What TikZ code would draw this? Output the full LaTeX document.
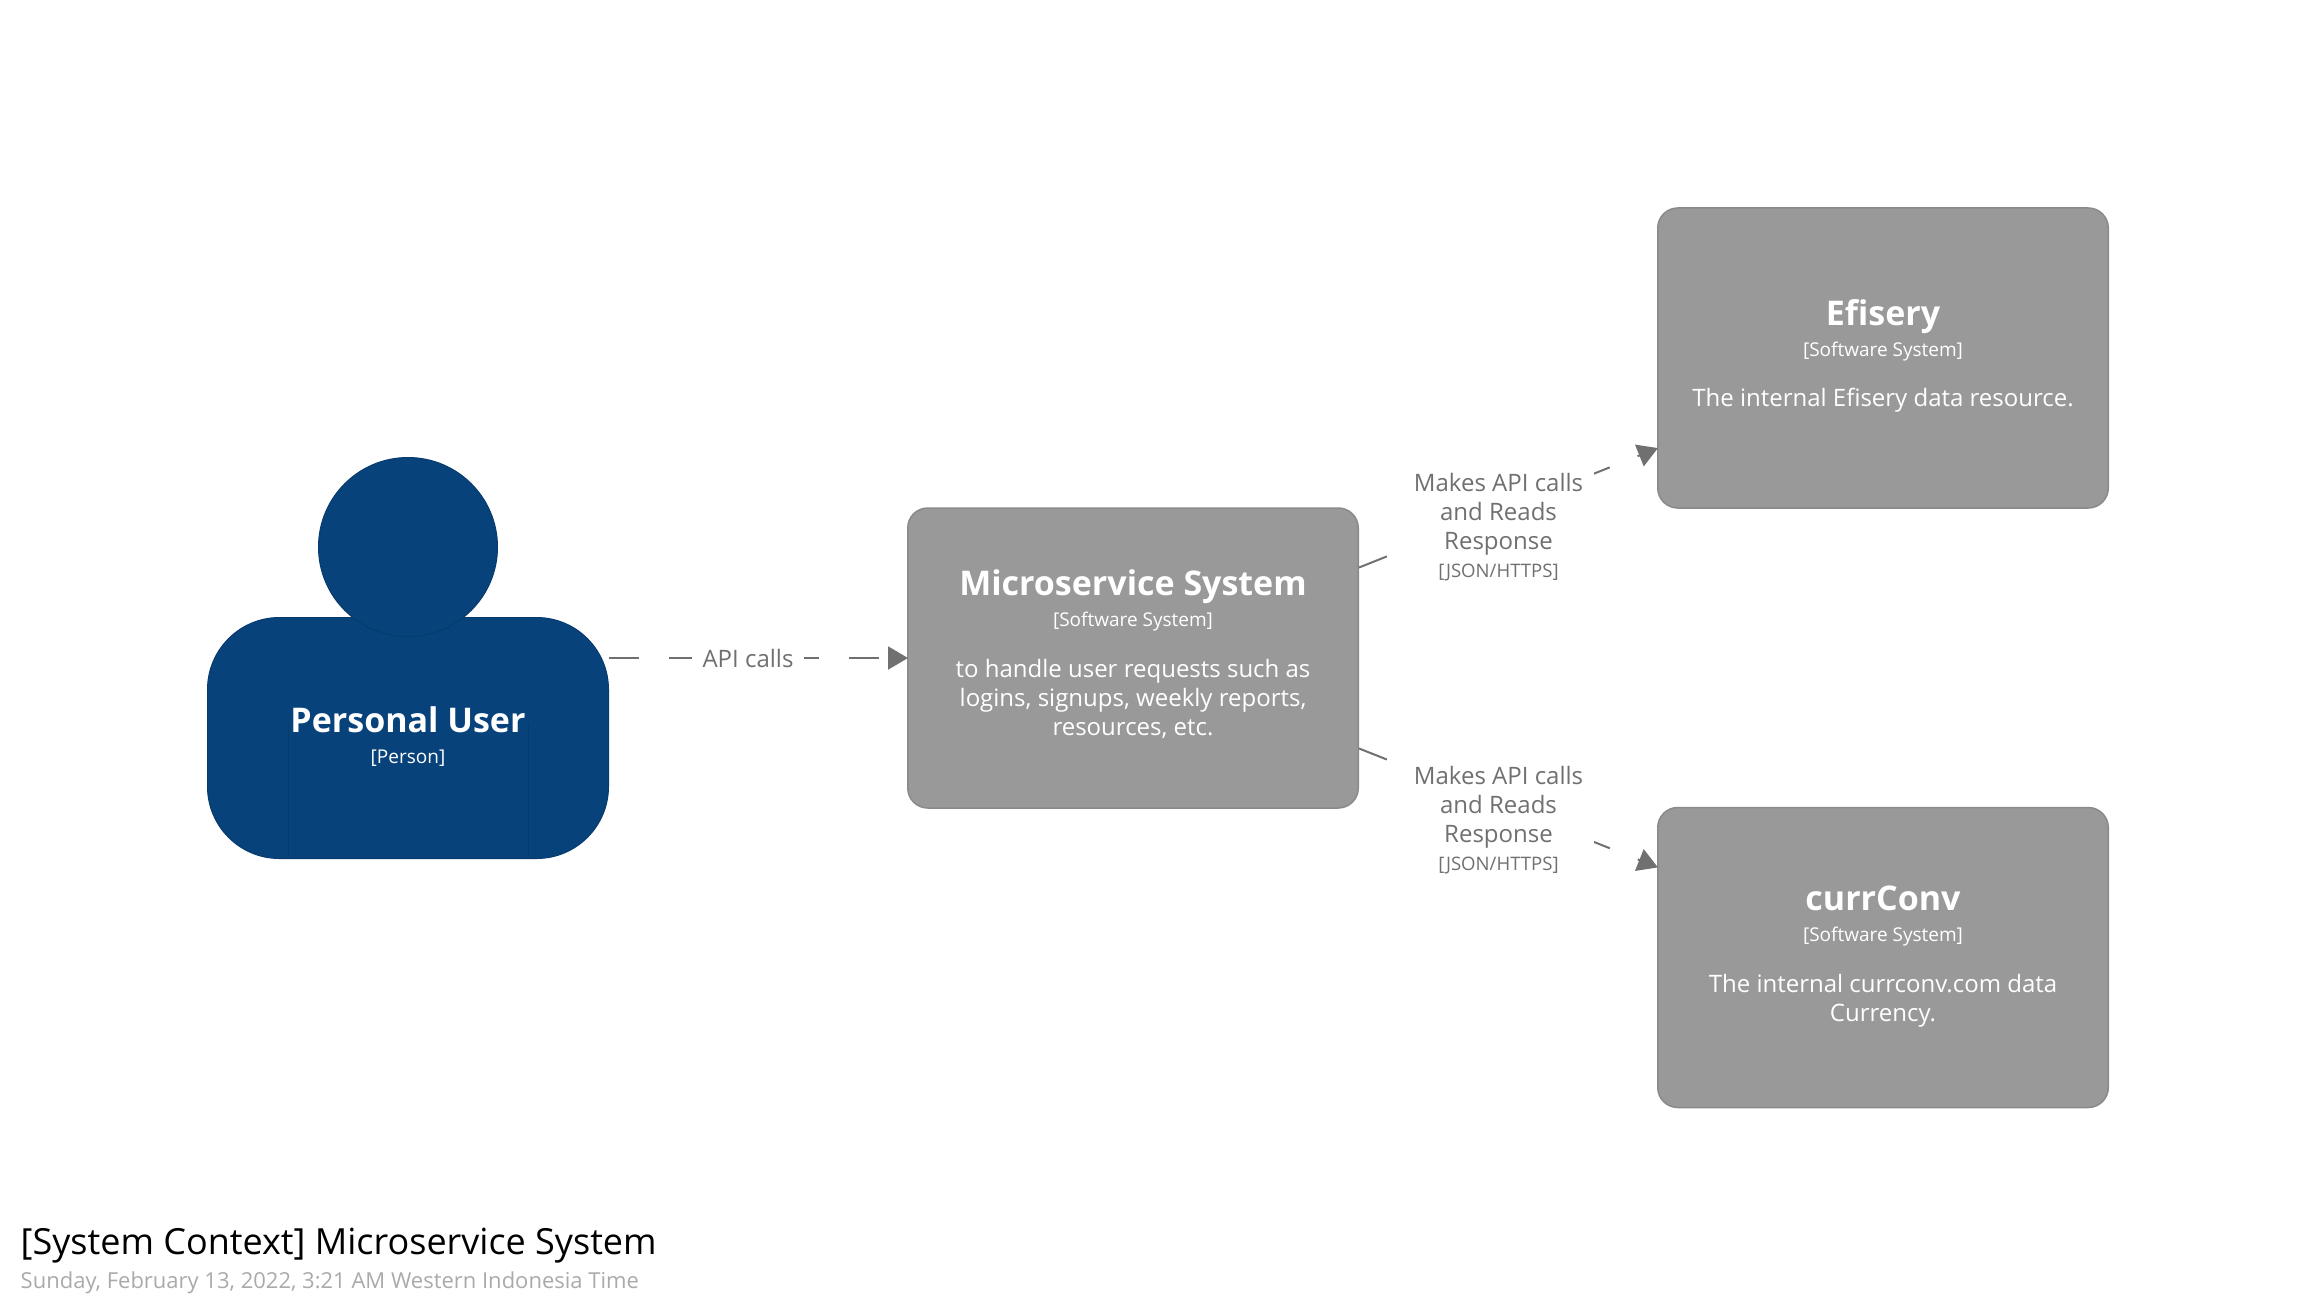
\documentclass[tikz,border=0pt]{standalone}
\usepackage{fontspec}
\setmainfont{Open Sans}
\usetikzlibrary{calc,arrows.meta}
\definecolor{personblue}{HTML}{08427B}
\definecolor{personline}{HTML}{073B6E}
\definecolor{boxgray}{HTML}{999999}
\definecolor{boxline}{HTML}{8A8A8A}
\definecolor{relgray}{HTML}{707070}
\definecolor{dategray}{HTML}{AAAAAA}
\tikzset{
    system/.style={draw=boxline,line width=1.5pt,fill=boxgray,rounded corners=20pt,minimum width=450.5pt,minimum height=300pt},
    rel/.style={draw=relgray,line width=2pt,dash pattern=on 30pt off 30pt,shorten >=-1pt,-{Triangle[length=20pt,width=23pt]}},
    rellabel/.style={fill=white,align=center,text=relgray,inner xsep=11pt,inner ysep=2pt,font=\fontsize{24}{28.7}\selectfont},
    namefont/.style={anchor=base,text=white,font=\bfseries\fontsize{34}{38}\selectfont},
    metafont/.style={anchor=base,text=white,font=\fontsize{19}{22}\selectfont},
    descfont/.style={anchor=center,align=center,text=white,font=\fontsize{24}{28.7}\selectfont}
}
\begin{document}
\begin{tikzpicture}[x=1pt,y=-1pt]
\useasboundingbox (0,0) rectangle (2316,1316);

\node[system] (micro) at (1133,658) {};
\node[system] (efisery) at (1883,358) {};
\node[system] (currconv) at (1883,957.5) {};

% person
\node[draw=personline,line width=1pt,fill=personblue,rounded corners=72pt,minimum width=401pt,minimum height=241pt] (body) at (408,738) {};
\draw[personline,line width=1pt] (288,723) coordinate (armL) -- (armL |- body.south);
\draw[personline,line width=1pt] (528,723) coordinate (armR) -- (armR |- body.south);
\node[draw=personline,line width=1pt,fill=personblue,circle,minimum size=179pt] (head) at (408,547) {};

% relationships
\draw[rel] (body.east |- micro.west) -- (micro.west);
\draw[rel] ($(micro.north east)!0.2!(micro.south east)$) -- ($(efisery.north west)!0.8!(efisery.south west)$);
\draw[rel] ($(micro.north east)!0.8!(micro.south east)$) -- ($(currconv.north west)!0.2!(currconv.south west)$);

\node[rellabel] (apilabel) at (748,658) {API calls};
\node[rellabel] (eflabel) at (1498.5,527.5) {Makes API calls\\and Reads\\Response\\[0pt]{\fontsize{18.6}{22}\selectfont [JSON/HTTPS]}};
\node[rellabel] (cclabel) at (1498.5,820.5) {Makes API calls\\and Reads\\Response\\[0pt]{\fontsize{18.6}{22}\selectfont [JSON/HTTPS]}};

% texts
\node[namefont] (personname) at (408,732) {Personal User};
\node[metafont] (personmeta) at (408,763) {[Person]};

\node[namefont] (microname) at (1133,595) {Microservice System};
\node[metafont] (micrometa) at (1133,626) {[Software System]};
\node[descfont] (microdesc) at (1133,699) {to handle user requests such as\\logins, signups, weekly reports,\\resources, etc.};

\node[namefont] (efname) at (1883,325) {Efisery};
\node[metafont] (efmeta) at (1883,356) {[Software System]};
\node[descfont] (efdesc) at (1883,400.5) {The internal Efisery data resource.};

\node[namefont] (ccname) at (1883,910) {currConv};
\node[metafont] (ccmeta) at (1883,941) {[Software System]};
\node[descfont] (ccdesc) at (1883,1000.5) {The internal currconv.com data\\Currency.};

\node[anchor=base west,inner sep=0pt,font=\fontsize{36}{40}\selectfont] (title) at (20.5,1254) {[System Context] Microservice System};
\node[anchor=base west,inner sep=0pt,text=dategray,font=\fontsize{22}{28}\selectfont] (date) at (20.5,1288.5) {Sunday, February 13, 2022, 3:21 AM Western Indonesia Time};
\end{tikzpicture}
\end{document}
